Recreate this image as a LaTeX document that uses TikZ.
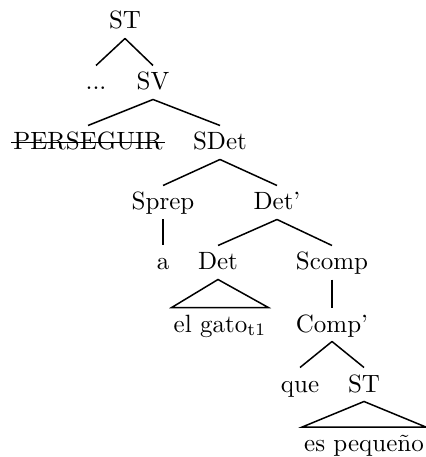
\documentclass[tikz,border=0pt]{standalone}
\usepackage{amsmath}
\usepackage{amssymb}
\usepackage{tikz}

\begin{document}
\begin{tikzpicture}[x=0.4pt, y=-0.4pt, semithick,
    cat/.style={inner xsep=0.5pt, inner ysep=1.5pt, text height=8pt, text depth=2pt}]
    \useasboundingbox (0,0) rectangle (425,457);
    \node[cat] (st) at (125,21.5) {ST};
    \node[cat] (dots) at (96,82.5) {...};
    \node[cat] (sv) at (153,82.5) {SV};
    \node[cat] (perseguir) at (88,142.5) {PERSEGUIR};
    \node[cat] (sdet) at (220,142.5) {SDet};
    \node[cat] (sprep) at (163,202.5) {Sprep};
    \node[cat] (detbar) at (277,202.5) {Det'};
    \node[cat] (a) at (163,262.5) {a};
    \node[cat] (det) at (218,262.5) {Det};
    \node[cat] (scomp) at (332,262.5) {Scomp};
    \node[cat] (gato) at (220,324.5) {el gato$_{\mathrm{t1}}$};
    \node[cat] (compbar) at (332,324.5) {Comp'};
    \node[cat] (que) at (300,384.5) {que};
    \node[cat] (st2) at (364,384.5) {ST};
    \node[cat] (pequeno) at (364,444) {es peque\~no};
    \draw (st.south) -- (dots.north) (st.south) -- (sv.north);
    \draw (sv.south) -- (perseguir.north) (sv.south) -- (sdet.north);
    \draw (perseguir.west) -- (perseguir.east);
    \draw (sdet.south) -- (sprep.north) (sdet.south) -- (detbar.north);
    \draw (sprep.south) -- (a.north);
    \draw (detbar.south) -- (det.north) (detbar.south) -- (scomp.north);
    \draw (det.south) -- (gato.north west) -- (gato.north east) -- cycle;
    \draw (scomp.south) -- (compbar.north);
    \draw (compbar.south) -- (que.north) (compbar.south) -- (st2.north);
    \draw (st2.south) -- (pequeno.north west) -- (pequeno.north east) -- cycle;
\end{tikzpicture}
\end{document}
